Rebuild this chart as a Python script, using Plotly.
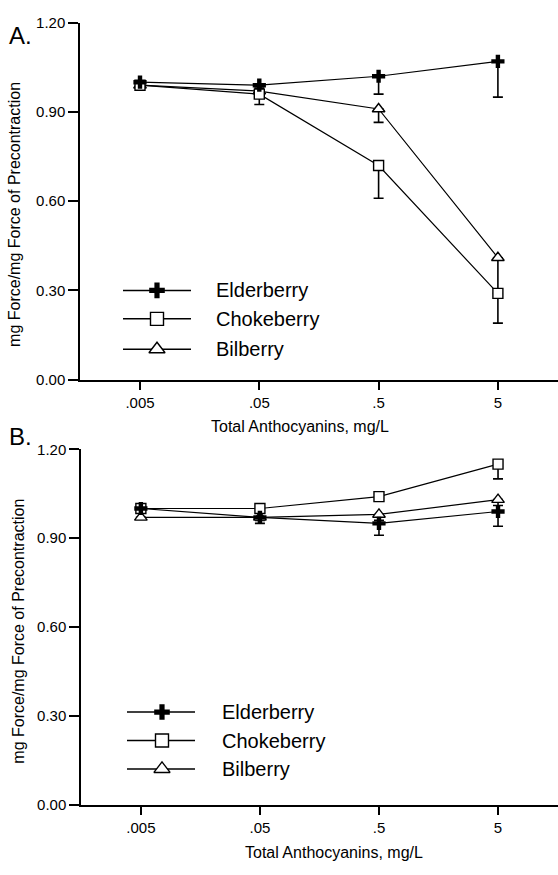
import numpy as np
import plotly.graph_objects as go

# ---------------- data ----------------
conc = [0.005, 0.05, 0.5, 5]
tick_labels = [".005", ".05", ".5", "5"]
series_names = ["Elderberry", "Chokeberry", "Bilberry"]

a_elder = [1.00, 0.99, 1.02, 1.07]
a_elder_err = [0.0, 0.01, 0.06, 0.12]
a_choke = [0.99, 0.96, 0.72, 0.29]
a_choke_err = [0.0, 0.035, 0.11, 0.10]
a_bil = [0.99, 0.97, 0.91, 0.41]
a_bil_err = [0.0, 0.01, 0.045, 0.12]

b_elder = [1.00, 0.97, 0.95, 0.99]
b_elder_err = [0.0, 0.02, 0.04, 0.05]
b_choke = [1.00, 1.00, 1.04, 1.15]
b_choke_err = [0.0, 0.0, 0.01, 0.05]
b_bil = [0.97, 0.97, 0.98, 1.03]
b_bil_err = [0.0, 0.01, 0.02, 0.02]

y_ticks = [0, 0.3, 0.6, 0.9, 1.2]

# ---------------- geometry ----------------
W, H = 558, 875
FONT = "Liberation Sans, Arial, sans-serif"

styles = {
    "Elderberry": dict(symbol="cross", size=11, color="black", line=dict(width=0)),
    "Chokeberry": dict(symbol="square", size=10, color="white", line=dict(color="black", width=1.4)),
    "Bilberry": dict(symbol="triangle-up", size=11, color="white", line=dict(color="black", width=1.4)),
}
legend_styles = {
    "Elderberry": dict(symbol="cross", size=13, color="black", line=dict(width=0)),
    "Chokeberry": dict(symbol="square", size=13, color="white", line=dict(color="black", width=1.4)),
    "Bilberry": dict(symbol="triangle-up", size=14, color="white", line=dict(color="black", width=1.4)),
}

fig = go.Figure()

panels = [
    ("x", "y", [a_elder, a_choke, a_bil], [a_elder_err, a_choke_err, a_bil_err]),
    ("x2", "y2", [b_elder, b_choke, b_bil], [b_elder_err, b_choke_err, b_bil_err]),
]
for xa, ya, vals, errs in panels:
    for name, v, e in list(zip(series_names, vals, errs))[::-1]:
        fig.add_trace(go.Scatter(
            x=conc, y=v, xaxis=xa, yaxis=ya, mode="lines+markers",
            name=name, showlegend=False,
            line=dict(color="black", width=1.2),
            marker=styles[name],
            error_y=dict(type="data", symmetric=False, array=[0] * len(e), arrayminus=e,
                         color="black", thickness=1.6, width=5),
            cliponaxis=False,
        ))

# legends drawn on a pixel overlay axis
legend_pos = [
    (123, 191, 157, 214, [287, 316, 347]),
    (127, 195, 162, 220, [717, 746, 775]),
]
for x0, x1, xm, xt, rows in legend_pos:
    for name, ry in zip(series_names, rows):
        fig.add_trace(go.Scatter(
            x=[x0, x1], y=[ry, ry], xaxis="x3", yaxis="y3", mode="lines",
            line=dict(color="black", width=1.5), showlegend=False, hoverinfo="skip"))
        fig.add_trace(go.Scatter(
            x=[xm], y=[ry], xaxis="x3", yaxis="y3", mode="markers",
            marker=legend_styles[name], showlegend=False, hoverinfo="skip"))
        fig.add_annotation(x=xt, y=ry, xref="x3", yref="y3", text=name, showarrow=False,
                           xanchor="left", yanchor="middle", font=dict(family=FONT, size=20, color="black"))

xr = [np.log10(0.005) - 60 / 119.3, np.log10(0.005) + (W - 140) / 119.3]
common_x = dict(type="log", range=xr, tickvals=conc, ticktext=tick_labels,
                showline=True, linecolor="black", linewidth=1.5, ticks="outside",
                ticklen=9, tickwidth=1.5, tickcolor="black", showgrid=False, zeroline=False,
                tickfont=dict(family=FONT, size=15, color="black"), fixedrange=True)
common_y = dict(range=[0, 1.2], tickvals=y_ticks, tickformat=".2f",
                showline=True, linecolor="black", linewidth=1.5, ticks="outside",
                ticklen=10, tickwidth=1.5, tickcolor="black", showgrid=False, zeroline=False,
                tickfont=dict(family=FONT, size=15, color="black"), fixedrange=True)

fig.update_layout(
    width=W, height=H, margin=dict(l=0, r=0, t=0, b=0),
    paper_bgcolor="white", plot_bgcolor="rgba(0,0,0,0)",
    showlegend=False,
    xaxis=dict(domain=[80 / W, 1], anchor="y", **common_x),
    yaxis=dict(domain=[1 - 378 / H, 1 - 14 / H], anchor="x", **common_y),
    xaxis2=dict(domain=[81 / W, 1], anchor="y2", **common_x),
    yaxis2=dict(domain=[1 - 811.5 / H, 1 - 449 / H], anchor="x2", **common_y),
    xaxis3=dict(domain=[0, 1], range=[0, W], visible=False, anchor="y3", fixedrange=True),
    yaxis3=dict(domain=[0, 1], range=[H, 0], visible=False, anchor="x3", fixedrange=True),
)

ann_font = dict(family=FONT, size=16, color="black")
texts = [
    (300, 426, "Total Anthocyanins, mg/L", 0, ann_font),
    (334, 860, "Total Anthocyanins, mg/L", 0, ann_font),
    (15, 210, "mg Force/mg Force of Precontraction", -90, ann_font),
    (19, 635, "mg Force/mg Force of Precontraction", -90, ann_font),
]
for x, y, t, ang, f in texts:
    fig.add_annotation(x=x, y=y, xref="x3", yref="y3", text=t, textangle=ang, showarrow=False,
                       xanchor="center", yanchor="middle", font=f)

for x, y, t in [(7, 27, "A."), (7, 436, "B.")]:
    fig.add_annotation(x=x, y=y, xref="x3", yref="y3", text=t, showarrow=False,
                       xanchor="left", yanchor="middle", font=dict(family=FONT, size=24, color="black"))

fig.write_html("out.html", config={"displayModeBar": False},
               post_script="document.body.style.margin='0px';document.body.style.overflow='hidden';")
